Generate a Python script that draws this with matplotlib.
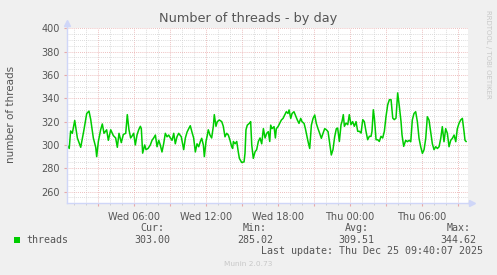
import numpy as np
import matplotlib.pyplot as plt

# hours since Wed 00:00, and thread count
hours = [0.42, 0.6, 0.72, 0.86, 1.06, 1.28, 1.56, 1.83, 2.06, 2.25, 2.39, 2.61, 2.81, 2.89,
         3.03, 3.22, 3.36, 3.5, 3.72, 3.86, 4.06, 4.28, 4.47, 4.61, 4.75, 4.94, 5.11, 5.31,
         5.44, 5.58, 5.72, 5.86, 5.97, 6.11, 6.25, 6.39, 6.53, 6.61, 6.72, 6.89, 7.0, 7.17,
         7.36, 7.5, 7.64, 7.78, 7.92, 8.06, 8.19, 8.33, 8.47, 8.61, 8.75, 8.89, 9.03, 9.17,
         9.31, 9.44, 9.58, 9.72, 9.94, 10.14, 10.28, 10.42, 10.56, 10.69, 10.83, 10.97, 11.11,
         11.25, 11.39, 11.53, 11.64, 11.78, 11.86, 12.0, 12.11, 12.19, 12.33, 12.47, 12.61,
         12.69, 12.83, 12.94, 13.11, 13.31, 13.44, 13.58, 13.72, 13.86, 14.0, 14.14, 14.22,
         14.28, 14.42, 14.56, 14.69, 14.78, 14.97, 15.17, 15.25, 15.33, 15.44, 15.61, 15.72,
         15.81, 15.94, 16.08, 16.22, 16.36, 16.5, 16.64, 16.78, 16.92, 17.06, 17.19, 17.31,
         17.39, 17.5, 17.67, 17.78, 17.86, 18.0, 18.14, 18.28, 18.42, 18.56, 18.69, 18.83,
         18.92, 19.06, 19.17, 19.33, 19.44, 19.61, 19.75, 19.89, 20.0, 20.17, 20.28, 20.42,
         20.5, 20.64, 20.78, 20.92, 21.06, 21.19, 21.33, 21.47, 21.61, 21.75, 21.89, 22.03,
         22.17, 22.31, 22.44, 22.58, 22.72, 22.86, 22.97, 23.11, 23.25, 23.33, 23.44, 23.53,
         23.67, 23.81, 23.94, 24.08, 24.22, 24.36, 24.5, 24.64, 24.78, 24.92, 25.06, 25.19,
         25.33, 25.47, 25.61, 25.75, 25.83, 25.94, 26.03, 26.17, 26.31, 26.44, 26.58, 26.72,
         26.86, 27.0, 27.14, 27.28, 27.42, 27.56, 27.69, 27.83, 27.97, 28.11, 28.25, 28.33,
         28.47, 28.64, 28.78, 28.92, 29.06, 29.19, 29.33, 29.47, 29.61, 29.75, 29.89, 30.03,
         30.17, 30.31, 30.44, 30.58, 30.72, 30.86, 31.0, 31.14, 31.28, 31.42, 31.56, 31.69,
         31.83, 31.97, 32.11, 32.25, 32.39, 32.53, 32.67, 32.81, 32.94, 33.08, 33.22, 33.36,
         33.5, 33.58, 33.67]
threads = [300, 297, 312, 310, 321, 306, 298, 313, 327, 329, 322, 306, 298, 290,
           303, 313, 318, 310, 313, 304, 313, 308, 306, 298, 310, 302, 309, 310,
           326, 313, 306, 308, 310, 300, 308.5, 313, 316, 314, 293, 300, 296, 297,
           300, 304, 306, 308.5, 298.5, 304, 300, 294, 301, 310, 307, 308.5, 306, 304,
           310, 301, 307, 310, 307, 296, 306, 311, 314, 316.5, 311, 306, 294,
           301, 298.5, 303, 305.7, 300, 290, 303, 308.5, 313, 308.5, 306, 316,
           326, 316, 320, 321.4, 320, 316, 307, 310, 308.5, 304, 298.5, 297,
           303, 301, 303, 294, 288.5, 285, 285.5, 293, 313, 317, 318.5, 320,
           300, 288.5, 294, 296, 303, 306, 301, 314, 306, 310, 311.4, 303,
           317, 314, 315.7, 306, 314, 315.7, 318.5, 321.4, 322.8, 325.7, 328.5, 327,
           330, 322.8, 327, 328.5, 325.7, 321.4, 318.5, 322.8, 320, 318.5, 314, 307,
           303, 297, 317, 322.8, 325.7, 318.5, 314, 310, 305.7, 310, 314, 313,
           311.4, 301, 291.4, 296, 307, 314, 314.5, 303, 317.4, 320, 326, 316,
           318.8, 317.4, 326, 317.4, 320, 316, 320, 311.7, 311.7, 310.2, 321.7, 320,
           311.7, 304.5, 307.4, 307.4, 311.7, 330.2, 323, 304.5, 304.5, 303, 307.4, 306,
           311.7, 324.5, 334.5, 338.8, 338.8, 323, 321.7, 323, 344.62, 333, 320, 308.8,
           298.8, 304, 302.8, 304, 302.8, 321.4, 327, 328.5, 320, 305.7, 298.5, 292.8,
           296, 305.7, 324.2, 321.4, 311.4, 301, 296, 298.5, 297, 298.5, 305.7, 315.7,
           302.8, 314, 310, 298.5, 304, 305.7, 308.5, 302.8, 314, 318.5, 321.4, 322.8,
           311.4, 304, 303]

tick_hours = [6, 12, 18, 24, 30]
tick_labels = ['Wed 06:00', 'Wed 12:00', 'Wed 18:00', 'Thu 00:00', 'Thu 06:00']
y_ticks = [260, 280, 300, 320, 340, 360, 380, 400]

cur, vmin, avg, vmax = '303.00', '285.02', '309.51', '344.62'
last_update = 'Last update: Thu Dec 25 09:40:07 2025'

W, H = 497, 275
fig = plt.figure(figsize=(W / 100, H / 100), dpi=100, facecolor='#F0F0F0')


def px(x, y):
    return x / W, 1 - y / H


ax = fig.add_axes([66.5 / W, 1 - 203.3 / H, 401.5 / W, 175 / H])
ax.set_facecolor('white')
ax.set_xlim(0.375, 33.83)
ax.set_ylim(250, 400)

# grid: gray every hour / 5 threads, red every 3 hours / 20 threads
ax.set_xticks(np.arange(1, 34), minor=True)
ax.set_yticks(np.arange(255, 400, 5), minor=True)
ax.set_xticks(np.arange(3, 34, 3))
lab = dict(zip(tick_hours, tick_labels))
ax.set_xticklabels([lab.get(int(h), '') for h in np.arange(3, 34, 3)])
ax.set_yticks(y_ticks)
ax.grid(which='minor', color='#D0D0D0', linestyle=(0, (1, 1.5)), linewidth=0.6)
ax.grid(which='major', color='#E8A8A8', linestyle=(0, (1, 1.5)), linewidth=0.6)
ax.set_axisbelow(True)
ax.tick_params(axis='x', which='major', length=2.5, color='#E8A8A8', labelsize=7,
               labelcolor='#555555', pad=4)
ax.tick_params(axis='x', which='minor', length=1.5, color='#C8C8C8')
ax.tick_params(axis='y', which='major', length=2, color='#E8A8A8', labelsize=7,
               labelcolor='#555555', pad=3)
ax.tick_params(axis='y', which='minor', length=0)

for s in ['top', 'right']:
    ax.spines[s].set_visible(False)
for s in ['left', 'bottom']:
    ax.spines[s].set_color('#CFD6F8')
    ax.spines[s].set_linewidth(1)

# axis arrows
ax.plot([0, 0], [1, 1.025], color='#CFD6F8', lw=1, transform=ax.transAxes, clip_on=False)
ax.plot(0, 1.03, marker='^', color='#CFD6F8', ms=4, transform=ax.transAxes, clip_on=False)
ax.plot([1, 1.008], [0, 0], color='#CFD6F8', lw=1, transform=ax.transAxes, clip_on=False)
ax.plot(1.01, 0, marker='>', color='#CFD6F8', ms=4, transform=ax.transAxes, clip_on=False)

ax.plot(hours, threads, color='#00CC00', lw=1.1)

fig.text(*px(248.5, 18.5), 'Number of threads - by day', ha='center', va='center',
         fontsize=9.3, color='#555555')
fig.text(*px(11, 114), 'number of threads', rotation=90, ha='center', va='center',
         fontsize=7.5, color='#555555')
fig.text(*px(488, 54), 'RRDTOOL / TOBI OETIKER', rotation=270, ha='center', va='center',
         fontsize=5, color='#C8C8C8')

mono = dict(family='DejaVu Sans Mono', fontsize=7.2, color='#555555', va='center')
fig.patches.append(plt.Rectangle(px(14, 242.7), 6 / W, 5.4 / H, transform=fig.transFigure,
                                 facecolor='#00CC00', edgecolor='none'))
fig.text(*px(26.7, 239.7), 'threads', ha='left', **mono)
for cx, head, val in [(152, 'Cur:', cur), (255, 'Min:', vmin),
                      (356.5, 'Avg:', avg), (458.5, 'Max:', vmax)]:
    fig.text(*px(cx, 228), head, ha='center', **mono)
    fig.text(*px(cx, 239.7), val, ha='center', **mono)
fig.text(*px(482.7, 251), last_update, ha='right', **mono)
fig.text(*px(248, 264.3), 'Munin 2.0.73', ha='center', va='center', fontsize=5.3,
         color='#C8C8C8')

fig.savefig('out.png', dpi=100, facecolor=fig.get_facecolor())
